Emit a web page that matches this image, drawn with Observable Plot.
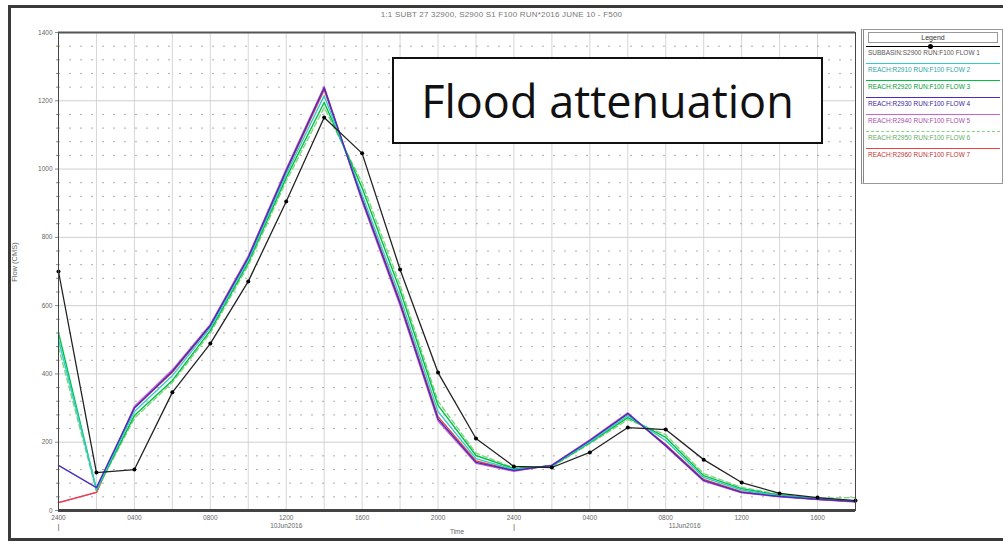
<!DOCTYPE html>
<html>
<head>
<meta charset="utf-8">
<script src="https://cdn.jsdelivr.net/npm/d3@7"></script>
<script src="https://cdn.jsdelivr.net/npm/@observablehq/plot@0.6"></script>
<style>
  html, body { margin: 0; padding: 0; background: #fff; }
  #wrap { position: relative; width: 1003px; height: 544px; overflow: hidden; font-family: "Liberation Sans", Arial, sans-serif; }
  #wrap svg { position: absolute; left: 0; top: 0; }
  .border { position: absolute; left: 8px; top: 5px; width: 1000px; height: 536px; border: 3px solid #3a3a3a; box-sizing: border-box; pointer-events: none; }
  .title { position: absolute; top: 10px; left: 0; width: 1003px; text-align: center; font-size: 8px; color: #777; letter-spacing: 0.2px; }
  .ylab { position: absolute; left: 14px; top: 262px; transform: translate(-50%, -50%) rotate(-90deg); font-size: 7.5px; color: #666; white-space: nowrap; }
  .callout { position: absolute; left: 392px; top: 57px; width: 431px; height: 87px; border: 2px solid #111; background: #fff; box-sizing: border-box; display: flex; align-items: center; justify-content: center; font-family: "Open Sans", sans-serif; font-size: 45px; color: #111; }
  .legend { position: absolute; left: 861px; top: 29px; width: 142px; height: 155px; border: 1px solid #999; border-left: 3px double #888; background: #fff; box-sizing: border-box; }
  .legend .head { margin: 2px 4px 0 4px; border: 1px solid #999; text-align: center; font-size: 7px; color: #333; height: 9px; line-height: 9px; }
  .legend .row { position: relative; height: 17px; }
  .legend .sample { position: absolute; left: 2px; right: 2px; top: 3px; height: 0; border-top-width: 1.5px; border-top-style: solid; }
  .legend .dot { position: absolute; left: 64px; top: 1px; width: 5px; height: 5px; border-radius: 50%; background: #000; }
  .legend .txt { position: absolute; left: 4px; top: 6px; font-size: 6.5px; color: #555; white-space: nowrap; }
</style>
</head>
<body>
<div id="wrap"></div>
<script>
// ---- data ----
const hours = [0, 2, 4, 6, 8, 10, 12, 14, 16, 18, 20, 22, 24, 26, 28, 30, 32, 34, 36, 38, 40, 42];
const observed   = [700, 111, 120, 346, 489, 671, 905, 1151, 1046, 706, 404, 211, 129, 126, 170, 243, 237, 149, 82, 50, 38, 29];
const reachBlue  = [132, 67, 300, 408, 542, 741, 996, 1238, 910, 606, 268, 141, 117, 132, 205, 284, 190, 88, 53, 41, 33, 26];
const reachMag   = [23, 53, 305, 412, 545, 745, 1000, 1242, 905, 600, 262, 138, 115, 133, 207, 286, 188, 86, 52, 40, 32, 25];
const reachRed   = [23, 53, 300, 405, 540, 738, 992, 1232, 915, 612, 275, 145, 118, 132, 203, 282, 193, 91, 55, 42, 33, 26];
const reachCyan  = [500, 62, 290, 395, 535, 733, 985, 1215, 925, 625, 290, 152, 120, 131, 201, 278, 205, 97, 60, 43, 34, 27];
const reachGreen = [521, 60, 278, 381, 527, 726, 975, 1195, 945, 645, 308, 161, 123, 130, 199, 272, 214, 102, 64, 45, 35, 28];
const reachLtGrn = [478, 58, 270, 375, 520, 718, 965, 1180, 960, 660, 320, 168, 125, 128, 196, 266, 222, 108, 68, 47, 36, 38];

const seriesNames = ["SUBBASIN:S2900 RUN:F100 FLOW 1", "REACH:R2910 RUN:F100 FLOW 2", "REACH:R2920 RUN:F100 FLOW 3",
  "REACH:R2930 RUN:F100 FLOW 4", "REACH:R2940 RUN:F100 FLOW 5", "REACH:R2950 RUN:F100 FLOW 6", "REACH:R2960 RUN:F100 FLOW 7"];
const seriesColors = ["#000000", "#33cccc", "#00c040", "#4a2cc0", "#d060d0", "#7ed67e", "#ee4040"];

const yTicks = [0, 200, 400, 600, 800, 1000, 1200, 1400];
const yMinor = [40, 80, 120, 160, 240, 280, 320, 360, 440, 480, 520, 560, 640, 680, 720, 760, 840, 880, 920, 960, 1040, 1080, 1120, 1160, 1240, 1280, 1320, 1360];
const xTickHours = [0, 4, 8, 12, 16, 20, 24, 28, 32, 36, 40];
const xTickLabels = ["2400", "0400", "0800", "1200", "1600", "2000", "2400", "0400", "0800", "1200", "1600"];
const dayMarkHours = [0, 24];
const dayLabelHours = [12, 33];
const dayLabels = ["10Jun2016", "11Jun2016"];

// ---- build rows (drawing order: back to front) ----
const reachSeries = [
  {name: seriesNames[4], values: reachMag, color: seriesColors[4]},
  {name: seriesNames[6], values: reachRed, color: seriesColors[6]},
  {name: seriesNames[5], values: reachLtGrn, color: seriesColors[5], dash: "5,3"},
  {name: seriesNames[2], values: reachGreen, color: seriesColors[2]},
  {name: seriesNames[1], values: reachCyan, color: seriesColors[1]},
  {name: seriesNames[3], values: reachBlue, color: seriesColors[3]}
];
const obsRows = hours.map((h, i) => ({hour: h, flow: observed[i]}));
const lineMarks = reachSeries.map(s =>
  Plot.line(hours.map((h, i) => ({hour: h, flow: s.values[i]})), {
    x: "hour", y: "flow", stroke: s.color, strokeWidth: 1.4, strokeDasharray: s.dash || null
  })
);
const tickLabelMap = new Map(xTickHours.map((h, i) => [h, xTickLabels[i]]));

const chart = Plot.plot({
  width: 1003,
  height: 544,
  marginLeft: 58,
  marginRight: 148,
  marginTop: 32,
  marginBottom: 34,
  style: {fontFamily: "Liberation Sans, Arial, sans-serif", background: "transparent"},
  x: {domain: [0, 42]},
  y: {domain: [0, 1400]},
  marks: [
    Plot.ruleX(hours, {stroke: "#d6d6d6", strokeWidth: 1}),
    Plot.ruleY(yMinor, {stroke: "#9a9a9a", strokeWidth: 1, strokeDasharray: "2,9", strokeOpacity: 0.8}),
    Plot.ruleY(yTicks, {stroke: "#cfcfcf", strokeWidth: 1}),
    Plot.axisY(yTicks, {tickSize: 3, tickPadding: 3, fontSize: 6.5, color: "#666", stroke: "#888", label: null, tickFormat: d => String(d)}),
    Plot.axisY(yMinor, {tickSize: 2, tickFormat: () => "", stroke: "#888", label: null}),
    Plot.axisX(xTickHours, {tickSize: 0, tickPadding: 5, fontSize: 6.5, color: "#666", tickFormat: d => tickLabelMap.get(d), label: null}),
    Plot.text(dayMarkHours, {x: d => d, frameAnchor: "bottom", dy: 18, text: () => "|", fontSize: 8, fill: "#555"}),
    Plot.text(dayLabelHours, {x: d => d, frameAnchor: "bottom", dy: 17, text: (d, i) => dayLabels[i], fontSize: 6.5, fill: "#666"}),
    Plot.text(["Time"], {x: () => 21, frameAnchor: "bottom", dy: 23, text: d => d, fontSize: 6.5, fill: "#666"}),
    ...lineMarks,
    Plot.line(obsRows, {x: "hour", y: "flow", stroke: "#222", strokeWidth: 1.3}),
    Plot.dot(obsRows, {x: "hour", y: "flow", r: 2, fill: "#000"}),
    Plot.frame({stroke: "#444", strokeWidth: 1}),
    Plot.ruleY([0], {stroke: "#444", strokeWidth: 3}),
    Plot.ruleY([1400], {stroke: "#555", strokeWidth: 2})
  ]
});

const wrap = document.getElementById("wrap");
wrap.appendChild(chart);

const add = (cls, html) => { const d = document.createElement("div"); d.className = cls; d.innerHTML = html; wrap.appendChild(d); return d; };
add("title", "1:1 SUBT 27 32900, S2900 S1 F100 RUN*2016 JUNE 10 - F500");
add("ylab", "Flow (CMS)");
add("callout", "Flood attenuation");
add("border", "");

// legend
const lg = add("legend", "");
const head = document.createElement("div"); head.className = "head"; head.textContent = "Legend"; lg.appendChild(head);
[0, 1, 2, 3, 4, 5, 6].forEach(i => {
  const row = document.createElement("div"); row.className = "row";
  const s = document.createElement("div"); s.className = "sample";
  s.style.borderTopColor = seriesColors[i];
  if (i === 5) s.style.borderTopStyle = "dashed";
  row.appendChild(s);
  if (i === 0) { const dt = document.createElement("div"); dt.className = "dot"; row.appendChild(dt); }
  const t = document.createElement("div"); t.className = "txt"; t.textContent = seriesNames[i];
  if (i > 0) t.style.color = d3.color(seriesColors[i]).darker(0.6).formatHex();
  row.appendChild(t);
  lg.appendChild(row);
});
</script>
</body>
</html>
